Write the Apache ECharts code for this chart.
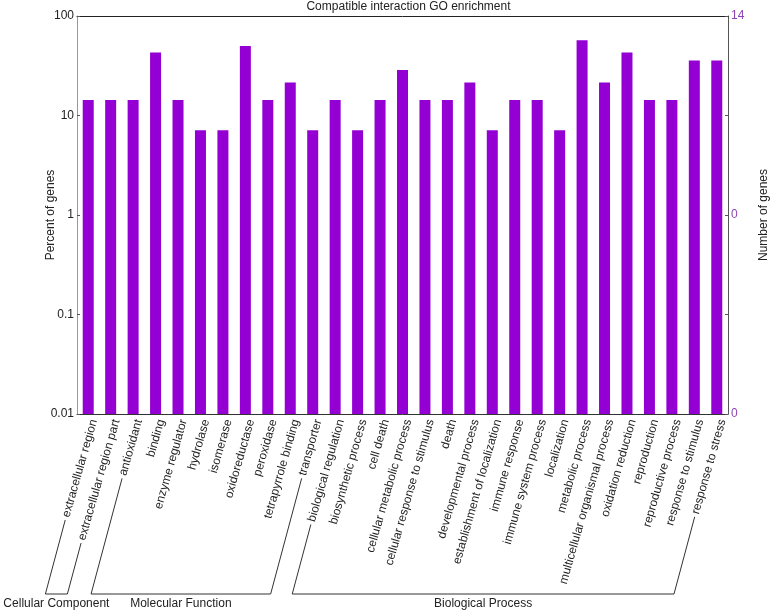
<!DOCTYPE html>
<html><head><meta charset="utf-8">
<script src="https://cdn.jsdelivr.net/npm/echarts@6/dist/echarts.min.js"></script>
<style>html,body{margin:0;padding:0;background:#fff}#c{width:778px;height:612px}</style>
</head><body><div id="c"></div>
<script>
const categories = ['extracellular region','extracellular region part','antioxidant','binding','enzyme regulator','hydrolase','isomerase','oxidoreductase','peroxidase','tetrapyrrole binding','transporter','biological regulation','biosynthetic process','cell death','cellular metabolic process','cellular response to stimulus','death','developmental process','establishment of localization','immune response','immune system process','localization','metabolic process','multicellular organismal process','oxidation reduction','reproduction','reproductive process','response to stimulus','response to stress'];
const percentOfGenes = [14.3,14.3,14.3,42.9,14.3,7.1,7.1,50.0,14.3,21.4,7.1,14.3,7.1,14.3,28.6,14.3,14.3,21.4,7.1,14.3,14.3,7.1,57.1,21.4,42.9,14.3,14.3,35.7,35.7];
const groupNames = ['Cellular Component','Molecular Function','Biological Process'];
const groupFirst = [0,2,11];
const groupLast = [1,10,28];
const rightTickLabels = {'100':'14','1':'0','0.01':'0'};

const FONT = '"Liberation Sans", Arial, Helvetica, sans-serif';
const ROT = 74, MARGIN = 4, LEG_ANGLE = 75, BOTTOM_Y = 594;
const gridL = 77, gridR = 38, gridT = 16, gridB = 198;

const chart = echarts.init(document.getElementById('c'), null, {renderer:'canvas'});
const nameStyle = {fontFamily:FONT,fontSize:12,color:'#222'};
chart.setOption({
  animation:false,
  backgroundColor:'#fff',
  title:{text:'Compatible interaction GO enrichment',left:gridL+(778-gridL-gridR)/2,textAlign:'center',top:0,padding:0,
    textStyle:{fontFamily:FONT,fontSize:12,fontWeight:'normal',color:'#222',lineHeight:13}},
  grid:{left:gridL,right:gridR,top:gridT,bottom:gridB,containLabel:false},
  xAxis:[{type:'category',data:categories,position:'bottom',
      axisLine:{lineStyle:{color:'#333',width:1}},
      axisTick:{inside:true,length:3,lineStyle:{color:'#333'}},
      axisLabel:{rotate:ROT,margin:MARGIN,interval:0,verticalAlign:'top',fontFamily:FONT,fontSize:12,color:'#222'},
      splitLine:{show:false}},
    {type:'category',data:categories,position:'top',
      axisLine:{lineStyle:{color:'#222',width:1}},
      axisTick:{inside:true,length:3,lineStyle:{color:'#333'}},
      axisLabel:{show:false},splitLine:{show:false}}],
  yAxis:[{type:'log',logBase:10,min:0.01,max:100,startValue:0.01,position:'left',
      name:'Percent of genes',nameLocation:'middle',nameGap:20,nameMoveOverlap:false,nameTextStyle:nameStyle,
      axisLine:{show:true,lineStyle:{color:'#999'}},
      axisTick:{show:true,inside:true,length:3,lineStyle:{color:'#555'}},
      axisLabel:{fontFamily:FONT,fontSize:12,color:'#222',margin:3},
      splitLine:{show:false},minorTick:{show:false}},
    {type:'log',logBase:10,min:0.01,max:100,position:'right',
      name:'Number of genes',nameLocation:'middle',nameGap:30,nameMoveOverlap:false,nameTextStyle:nameStyle,
      axisLine:{show:true,lineStyle:{color:'#555'}},
      axisTick:{show:true,inside:true,length:3,lineStyle:{color:'#555'}},
      axisLabel:{fontFamily:FONT,fontSize:12,color:'#8e44b5',margin:3,
        formatter:function(v){const k=String(+(+v).toPrecision(6));return rightTickLabels[k]!==undefined?rightTickLabels[k]:'';}},
      splitLine:{show:false}}],
  series:[{type:'bar',data:percentOfGenes,xAxisIndex:0,yAxisIndex:0,barWidth:11,
    itemStyle:{color:'#9400d3'}}]
});

// group brackets computed from label geometry
const ctx = document.createElement('canvas').getContext('2d');
ctx.font = '12px ' + FONT;
const th = ROT*Math.PI/180, la = LEG_ANGLE*Math.PI/180;
const axisY = chart.convertToPixel({yAxisIndex:0}, 0.01);
function labelStart(i){
  const x = chart.convertToPixel({xAxisIndex:0}, categories[i]);
  const L = ctx.measureText(categories[i]).width + 3;
  const h = 6;
  const ax = x + h*Math.sin(th), ay = axisY + MARGIN + h*Math.cos(th);
  return [ax - L*Math.cos(th), ay + L*Math.sin(th)];
}
function legBottom(s){
  const t = BOTTOM_Y - s[1];
  return [s[0] - t/Math.tan(la), BOTTOM_Y];
}
const graphics = [];
for(let g=0; g<groupNames.length; g++){
  const s1 = labelStart(groupFirst[g]), s2 = labelStart(groupLast[g]);
  const b1 = legBottom(s1), b2 = legBottom(s2);
  graphics.push({type:'polyline',shape:{points:[s1,b1,b2,s2]},style:{stroke:'#333',lineWidth:1,fill:null},silent:true});
  const w = ctx.measureText(groupNames[g]).width;
  const cx = Math.max((b1[0]+b2[0])/2, w/2);
  graphics.push({type:'text',x:cx,y:BOTTOM_Y+10,style:{text:groupNames[g],font:'12px '+FONT,fill:'#222',align:'center',verticalAlign:'middle'},silent:true});
}
chart.setOption({graphic:graphics});
</script></body></html>
